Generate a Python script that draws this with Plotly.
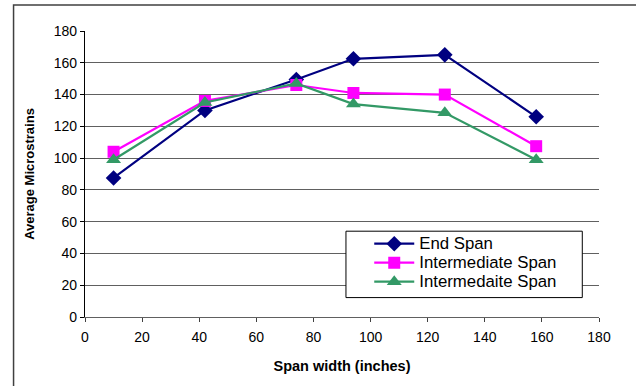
import plotly.graph_objects as go

# Span widths (inches) where strain was measured
span_width = [10, 42, 74, 94, 126, 158]

# Average microstrains for each span type
end_span = [87.5, 130, 149.5, 162.5, 165, 126]
intermediate_span = [104, 136, 146, 141, 140, 107.5]
intermedaite_span = [99, 135, 147, 134, 128.5, 99]

series_names = ["End Span", "Intermediate Span", "Intermedaite Span"]
series_values = [end_span, intermediate_span, intermedaite_span]
series_colors = ["#000080", "#FF00FF", "#339966"]
series_symbols = ["diamond", "square", "triangle-up"]
series_sizes = [12, 12, 13]

x_ticks = list(range(0, 181, 20))
y_ticks = list(range(0, 181, 20))

FONT = "Liberation Sans, Arial, sans-serif"

fig = go.Figure()
for name, vals, color, sym, size in zip(series_names, series_values, series_colors,
                                        series_symbols, series_sizes):
    fig.add_trace(go.Scatter(
        x=span_width, y=vals,
        name=f"<span style='font-size:16.8px'>{name}</span>",
        mode="lines+markers",
        line=dict(color=color, width=2.2),
        marker=dict(symbol=sym, size=size, color=color, line=dict(width=0)),
    ))

fig.update_layout(
    width=636, height=386,
    margin=dict(l=84.5, r=37, t=31, b=69.3),
    paper_bgcolor="white", plot_bgcolor="white",
    font=dict(family=FONT, size=14, color="black"),
    showlegend=True,
    legend=dict(
        x=0.553, y=0.307, xanchor="left", yanchor="top",
        bgcolor="rgba(0,0,0,0)", borderwidth=0,
        font=dict(family=FONT, size=12.3, color="black"),
        itemwidth=40, tracegroupgap=0,
    ),
    xaxis=dict(
        range=[0, 180], tickvals=x_ticks, ticks="outside", ticklen=4,
        tickcolor="#404040", showgrid=False, zeroline=False,
        showline=True, linecolor="#606060", linewidth=1.2,
        tickfont=dict(size=14), ticklabelstandoff=3,
        title=dict(text="<b>Span width (inches)</b>", font=dict(size=14.5), standoff=16),
    ),
    yaxis=dict(
        range=[0, 180], tickvals=y_ticks, ticks="outside", ticklen=4,
        tickcolor="black", showgrid=True, gridcolor="#606060", gridwidth=1,
        zeroline=False, showline=True, linecolor="black", linewidth=1.2,
        tickfont=dict(size=14),
        title=dict(text="<b>Average Microstrains</b>", font=dict(size=13), standoff=16),
    ),
)

# Chart-area border (runs off the right and bottom of the page)
fig.add_shape(type="rect", xref="paper", yref="paper",
              x0=-0.139, y0=-0.5, x1=1.3, y1=1.091,
              line=dict(color="#404040", width=1.5), layer="below")

# Legend frame: white box with a black outline behind the legend entries
fig.add_shape(type="rect", xref="paper", yref="paper",
              x0=0.5077, y0=0.0679, x1=0.9675, y1=0.300,
              fillcolor="white", line=dict(color="black", width=1), layer="above")

fig.write_html("out.html")
